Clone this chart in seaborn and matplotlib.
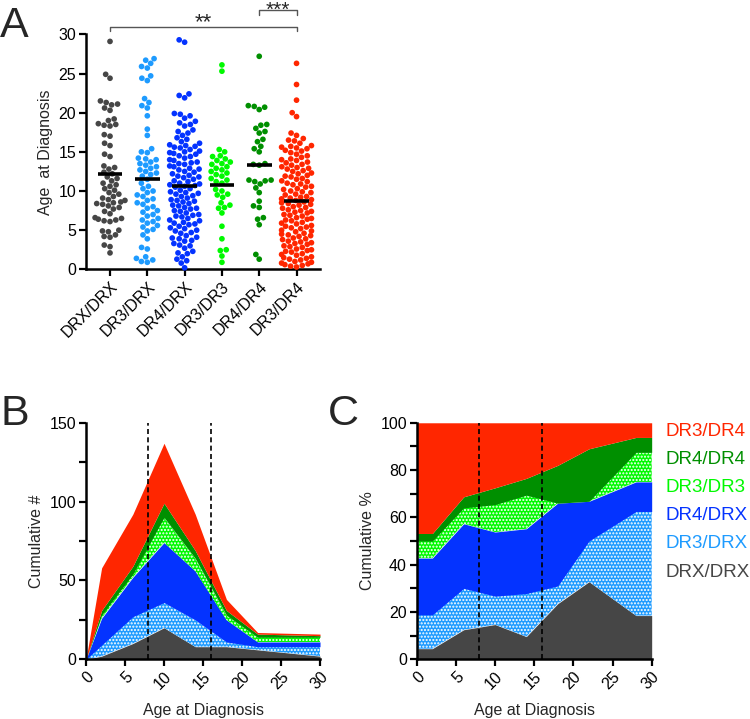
import numpy as np
import pandas as pd
import matplotlib
matplotlib.use('Agg')
import matplotlib.pyplot as plt
from matplotlib.ticker import MultipleLocator
import seaborn as sns

# ---------------- data ----------------
genotypes = ['DRX/DRX', 'DR3/DRX', 'DR4/DRX', 'DR3/DR3', 'DR4/DR4', 'DR3/DR4']
colors = ['#464646', '#1E9BFF', '#0433FF', '#00F900', '#008F00', '#FF2600']

age_drx_drx = [29.1, 24.9, 24.4, 21.5, 21.3, 21.1, 21.0, 20.6, 20.3, 19.2, 19.0, 18.6, 18.5,
               18.4, 18.3, 17.2, 17.0, 16.1, 15.8, 14.7, 14.4, 13.2, 13.0, 12.8, 12.4, 12.2,
               11.8, 11.6, 11.3, 11.0, 10.8, 10.6, 10.3, 10.1, 9.8, 9.6, 9.3, 9.1, 8.9, 8.8,
               8.6, 8.5, 8.4, 8.3, 8.1, 7.9, 7.7, 7.4, 7.1, 6.6, 6.5, 6.4, 6.3, 6.2, 6.1, 5.0,
               4.9, 4.8, 4.4, 4.2, 4.1, 3.1, 2.9, 2.1]
age_dr3_drx = [26.9, 26.7, 26.3, 25.9, 25.7, 24.7, 24.4, 24.1, 21.8, 21.3, 20.9, 20.6, 19.6,
               17.9, 17.1, 15.4, 15.0, 14.9, 14.2, 14.1, 14.0, 13.7, 13.5, 13.3, 13.1, 12.9,
               12.7, 12.5, 12.3, 12.1, 11.9, 11.5, 11.0, 10.6, 10.3, 10.0, 9.8, 9.5, 9.3, 9.0,
               8.8, 8.5, 8.3, 8.0, 7.8, 7.5, 7.3, 7.0, 6.8, 6.5, 6.3, 6.1, 5.9, 5.6, 5.4, 5.1,
               4.9, 4.4, 3.9, 2.8, 2.6, 1.6, 1.4, 1.2, 1.0, 0.9]
age_dr4_drx = [29.3, 29.0, 22.4, 22.2, 21.9,
               19.9, 19.8, 19.6, 19.3, 18.9, 18.7, 18.5, 18.3,
               17.8, 17.6, 17.4, 17.1, 16.8, 16.6, 16.3, 16.1,
               15.9, 15.8, 15.7, 15.6, 15.5, 15.3, 15.1, 15.0,
               14.9, 14.8, 14.7, 14.5, 14.4, 14.2, 14.0,
               13.9, 13.7, 13.6, 13.5, 13.4, 13.2, 13.1,
               12.9, 12.8, 12.7, 12.5, 12.4, 12.2, 12.0,
               11.9, 11.8, 11.7, 11.5, 11.3, 11.2, 11.0,
               10.9, 10.8, 10.7, 10.6, 10.5, 10.3, 10.1,
               9.9, 9.8, 9.7, 9.6, 9.4, 9.3, 9.1,
               8.9, 8.8, 8.7, 8.6, 8.4, 8.2, 8.1,
               7.9, 7.8, 7.7, 7.5, 7.4, 7.2, 7.0,
               6.9, 6.8, 6.7, 6.5, 6.3, 6.2, 6.0,
               5.9, 5.8, 5.7, 5.5, 5.3, 5.2, 5.0,
               4.9, 4.7, 4.6, 4.3, 4.1, 4.0,
               3.9, 3.7, 3.6, 3.3, 3.1, 3.0,
               2.7, 2.3, 2.1, 2.0,
               1.6, 1.3, 1.1, 0.8, 0.2]
age_dr3_dr3 = [26.1, 25.3, 15.3, 15.0, 14.5, 14.4, 14.1, 13.9, 13.7, 13.5, 13.4, 13.1, 12.9,
               12.7, 12.5, 12.3, 12.1, 11.9, 11.6, 11.4, 11.2, 11.0, 10.2, 10.0, 9.6, 9.5,
               9.2, 8.5, 8.2, 7.9, 7.8, 7.2, 5.5, 3.9, 2.5, 2.4, 1.7, 0.9]
age_dr4_dr4 = [27.2, 20.9, 20.8, 20.7, 20.4, 18.5, 18.4, 18.0, 17.6, 17.4, 16.6, 16.3, 15.7,
               15.4, 15.0, 13.5, 13.4, 13.3, 11.4, 11.4, 11.3, 11.2, 10.9, 10.4, 9.8, 8.7,
               8.1, 7.9, 6.6, 6.4, 5.7, 1.9, 1.3]
age_dr3_dr4 = [26.3, 23.6, 21.6, 20.0, 19.5,
               17.4, 17.1, 16.7, 16.5, 16.4, 16.1,
               15.8, 15.7, 15.6, 15.5, 15.4, 15.2, 15.1,
               14.9, 14.7, 14.5, 14.3, 14.1, 14.0,
               13.9, 13.7, 13.6, 13.4, 13.3, 13.1, 13.0,
               12.9, 12.8, 12.6, 12.5, 12.3, 12.2, 12.0,
               11.9, 11.8, 11.6, 11.5, 11.3, 11.2, 11.0,
               10.9, 10.8, 10.6, 10.5, 10.3, 10.2, 10.0,
               9.9, 9.8, 9.6, 9.5, 9.3, 9.2, 9.0, 9.1,
               8.9, 8.8, 8.6, 8.5, 8.3, 8.2, 8.0, 8.4,
               7.9, 7.8, 7.6, 7.5, 7.3, 7.2, 7.0, 7.4,
               6.9, 6.8, 6.6, 6.5, 6.3, 6.2, 6.0, 6.4,
               5.9, 5.8, 5.6, 5.5, 5.3, 5.2, 5.0, 5.4,
               4.9, 4.8, 4.6, 4.5, 4.3, 4.2, 4.0, 4.4,
               3.9, 3.8, 3.6, 3.5, 3.3, 3.2, 3.0, 3.4,
               2.9, 2.8, 2.6, 2.5, 2.3, 2.2, 2.0, 2.4,
               1.9, 1.8, 1.6, 1.5, 1.3, 1.2, 1.0, 1.4,
               0.9, 0.8, 0.7, 0.6, 0.5, 0.4, 0.3]
center_lines = [12.2, 11.5, 10.7, 10.8, 13.3, 8.7]

# Panel B: counts per age bin
ages_b = [0, 2, 6, 10, 14, 18, 22, 30]
count_drx_drx = [0, 2, 10, 20, 8, 8, 6, 2]
count_dr3_drx = [0, 7, 17, 16, 17, 3, 2, 6]
count_dr4_drx = [0, 17, 25, 38, 31, 14, 3, 3]
count_dr3_dr3 = [0, 2, 2, 16, 8, 3, 3, 3]
count_dr4_dr4 = [0, 3, 5, 9, 5, 3, 2, 1]
count_dr3_dr4 = [0, 27, 33, 38, 23, 7, 1, 1]

# Panel C: percentages per age bin
ages_c = [0, 2, 6, 10, 14, 18, 22, 28, 30]
pct_drx_drx = [4.5, 4.5, 12.5, 14.7, 9.6, 23.5, 32.8, 18.5, 18.5]
pct_dr3_drx = [14.3, 14.3, 17.5, 12.0, 18.2, 7.5, 17.2, 44.0, 44.0]
pct_dr4_drx = [24.0, 24.0, 27.3, 27.1, 27.4, 35.0, 16.8, 12.5, 12.5]
pct_dr3_dr3 = [7.2, 7.2, 6.7, 11.6, 14.2, 0.0, 0.0, 12.5, 12.5]
pct_dr4_dr4 = [3.2, 3.2, 4.7, 7.1, 7.1, 16.0, 22.2, 6.3, 6.3]
pct_dr3_dr4 = [46.8, 46.8, 31.3, 27.5, 23.5, 18.0, 11.0, 6.2, 6.2]

cut_ages = [8, 16]

# ---------------- style ----------------
sns.set_style('ticks')
plt.rcParams['font.family'] = ['Liberation Sans', 'DejaVu Sans']
plt.rcParams['hatch.linewidth'] = 1.0
plt.rcParams['hatch.color'] = 'white'

SPINE_W = 1.8
TICK_FS = 11.5
LAB_FS = 11.5


def style_axes(ax):
    for s in ['top', 'right']:
        ax.spines[s].set_visible(False)
    for s in ['left', 'bottom']:
        ax.spines[s].set_linewidth(SPINE_W)
        ax.spines[s].set_color('black')
    ax.tick_params(which='both', direction='out', length=5, width=1.6,
                   labelsize=TICK_FS, colors='black', pad=2)


fig = plt.figure(figsize=(7.5, 7.19), dpi=100)

# ---------------- Panel A ----------------
axA = fig.add_axes([0.1147, 0.6254, 0.312, 0.3268])
age_lists = [age_drx_drx, age_dr3_drx, age_dr4_drx, age_dr3_dr3, age_dr4_dr4, age_dr3_dr4]
df = pd.DataFrame({
    'Genotype': np.repeat(genotypes, [len(a) for a in age_lists]),
    'Age': np.concatenate(age_lists),
})
sns.swarmplot(data=df, x='Genotype', y='Age', hue='Genotype', order=genotypes,
              hue_order=genotypes, palette=colors, size=4.1, linewidth=0,
              legend=False, ax=axA, clip_on=False)
for i, c in enumerate(center_lines):
    axA.plot([i - 0.33, i + 0.33], [c, c], color='black', lw=2.6,
             solid_capstyle='butt', zorder=10)
axA.set_xlim(-0.643, 5.63)
axA.set_ylim(0, 30)
axA.yaxis.set_major_locator(MultipleLocator(5))
style_axes(axA)
axA.set_xlabel('')
axA.set_ylabel('Age  at Diagnosis', fontsize=LAB_FS)
axA.set_xticks(range(len(genotypes)))
axA.set_xticklabels(genotypes, rotation=45, ha='right', rotation_mode='anchor',
                    fontsize=LAB_FS)
# significance brackets
axA.plot([0, 0, 5, 5], [30.4, 31.0, 31.0, 30.4], color='#555555', lw=1, clip_on=False)
axA.text(2.5, 30.1, '**', ha='center', va='bottom', fontsize=16)
axA.plot([4, 4, 5, 5], [32.5, 33.1, 33.1, 32.5], color='#555555', lw=1, clip_on=False)
axA.text(4.5, 31.9, '***', ha='center', va='bottom', fontsize=15)

# ---------------- Panel B ----------------
axB = fig.add_axes([0.1147, 0.0830, 0.312, 0.329])
counts = [count_drx_drx, count_dr3_drx, count_dr4_drx, count_dr3_dr3, count_dr4_dr4, count_dr3_dr4]
polys = axB.stackplot(ages_b, counts, colors=colors, linewidth=0)
for k in (1, 3):
    polys[k].set_hatch('.....')
    polys[k].set_edgecolor('white')
    polys[k].set_linewidth(0)
for a in cut_ages:
    axB.axvline(a, color='black', lw=1.2, ls=(0, (3, 2)), zorder=5)
axB.set_xlim(0, 30)
axB.set_ylim(0, 150)
axB.xaxis.set_major_locator(MultipleLocator(5))
axB.yaxis.set_major_locator(MultipleLocator(50))
axB.yaxis.set_minor_locator(MultipleLocator(25))
style_axes(axB)
plt.setp(axB.get_xticklabels(), rotation=45, ha='right', rotation_mode='anchor')
axB.set_xlabel('Age at Diagnosis', fontsize=LAB_FS, labelpad=8)
axB.set_ylabel('Cumulative #', fontsize=LAB_FS)

# ---------------- Panel C ----------------
axC = fig.add_axes([0.5556, 0.0830, 0.3133, 0.329])
pcts = [pct_drx_drx, pct_dr3_drx, pct_dr4_drx, pct_dr3_dr3, pct_dr4_dr4, pct_dr3_dr4]
polys = axC.stackplot(ages_c, pcts, colors=colors, linewidth=0)
for k in (1, 3):
    polys[k].set_hatch('.....')
    polys[k].set_edgecolor('white')
    polys[k].set_linewidth(0)
for a in cut_ages:
    axC.axvline(a, color='black', lw=1.2, ls=(0, (3, 2)), zorder=5)
axC.set_xlim(0, 30)
axC.set_ylim(0, 100)
axC.xaxis.set_major_locator(MultipleLocator(5))
axC.yaxis.set_major_locator(MultipleLocator(20))
axC.yaxis.set_minor_locator(MultipleLocator(10))
style_axes(axC)
plt.setp(axC.get_xticklabels(), rotation=45, ha='right', rotation_mode='anchor')
axC.set_xlabel('Age at Diagnosis', fontsize=LAB_FS, labelpad=8)
axC.set_ylabel('Cumulative %', fontsize=LAB_FS)
# legend as coloured text
for j, k in enumerate(range(len(genotypes) - 1, -1, -1)):
    axC.text(1.06, 0.962 - j * 0.1186, genotypes[k], color=colors[k], fontsize=13.5,
             transform=axC.transAxes, ha='left', va='center')

# panel letters
fig.text(0.0, 1 - 37 / 719, 'A', fontsize=31, va='baseline', ha='left')
fig.text(0.0, 1 - 425 / 719, 'B', fontsize=31, va='baseline', ha='left')
fig.text(328 / 750, 1 - 425 / 719, 'C', fontsize=31, va='baseline', ha='left')

fig.savefig('out.png', dpi=100)
